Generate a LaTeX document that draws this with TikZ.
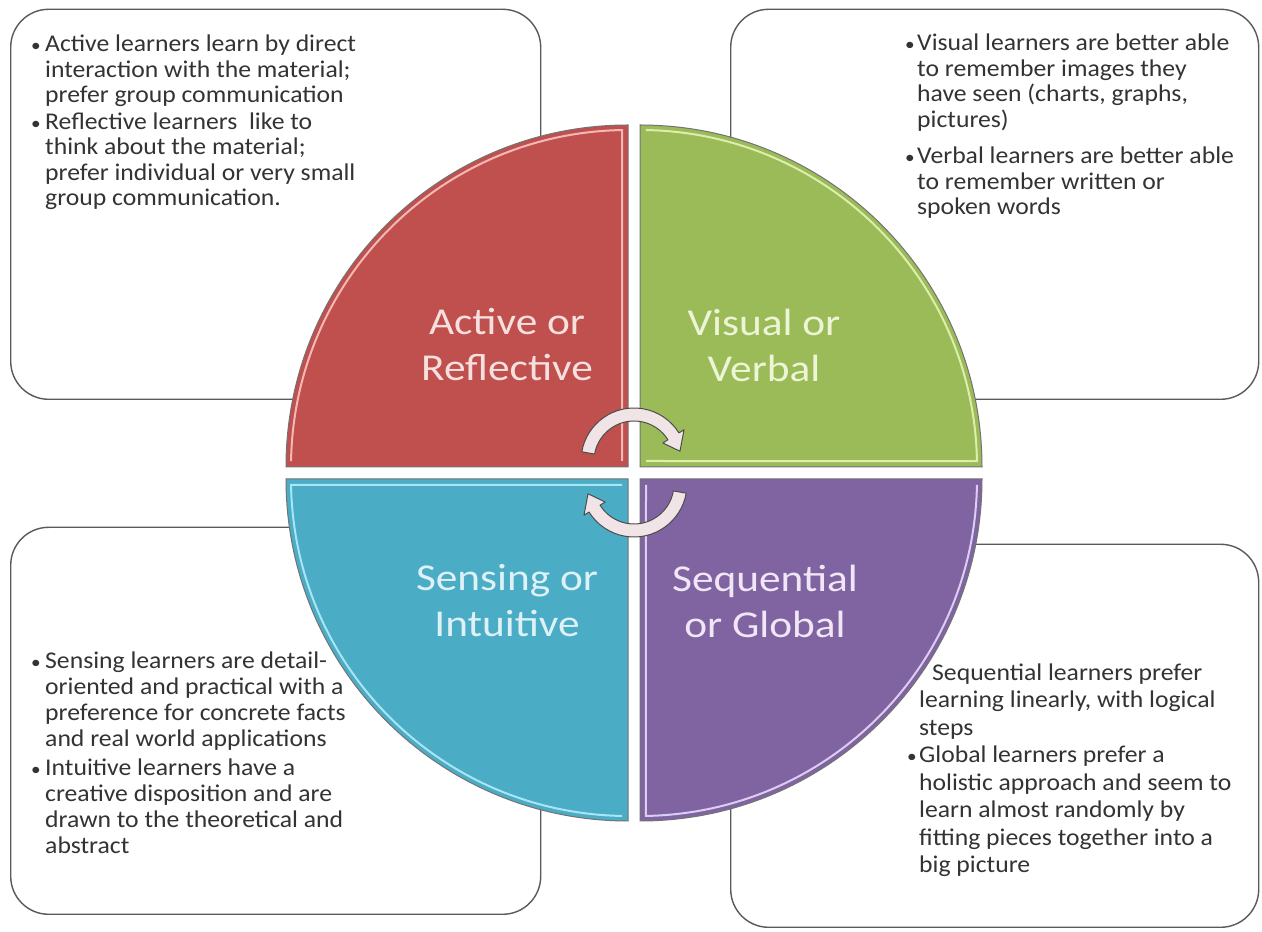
\documentclass[tikz,border=0pt]{standalone}
\usepackage{fontspec}
\setmainfont{Carlito}
\newfontfamily\bodyfont[FakeStretch=1.07]{Carlito}
\newfontfamily\labelfont[FakeStretch=1.14]{Carlito}
\usetikzlibrary{calc}
\definecolor{qred}{HTML}{C0504D}
\definecolor{qgreen}{HTML}{9BBB59}
\definecolor{qblue}{HTML}{4BACC6}
\definecolor{qpurple}{HTML}{8064A2}
\definecolor{hred}{HTML}{F4B8B6}
\definecolor{hgreen}{HTML}{DCEEAA}
\definecolor{hblue}{HTML}{A8E6F5}
\definecolor{hpurple}{HTML}{DCCDF2}
\definecolor{lred}{HTML}{F6E0DF}
\definecolor{lgreen}{HTML}{EEF5D6}
\definecolor{lblue}{HTML}{DDF1F7}
\definecolor{lpurple}{HTML}{F0E6F5}
\definecolor{boxline}{HTML}{5A5A5A}
\definecolor{txt}{HTML}{333333}
\definecolor{arrowfill}{HTML}{F0E4E6}
\newcommand{\bul}{{\fontsize{18}{18}\selectfont\textbullet}}
\tikzset{
  infobox/.style={draw=boxline, line width=1.4pt, fill=white, rounded corners=38pt, inner sep=0pt, anchor=south west},
  infotext/.style={anchor=base west, inner sep=0pt, text=txt, font=\bodyfont\fontsize{24}{25.5}\selectfont},
  quad/.style={draw=black!55, line width=1pt},
  hl/.style={line width=2pt},
  qlabel/.style={align=center, font=\labelfont\fontsize{38}{46}\selectfont, inner sep=0pt},
  arrowband/.style={fill=arrowfill, draw=black!70, line width=1pt, line join=round},
}
\begin{document}
\begin{tikzpicture}[x=1pt,y=1pt]
\useasboundingbox (0,0) rectangle (1262,932);
\fill[white] (0,0) rectangle (1262,932);

% info boxes
\node[infobox, minimum width=530, minimum height=390] (boxTL) at (10,532) {};
\node[infobox, minimum width=528, minimum height=390] (boxTR) at (730,532) {};
\node[infobox, minimum width=530, minimum height=387] (boxBL) at (10,17) {};
\node[infobox, minimum width=528, minimum height=383] (boxBR) at (730,4) {};

% box texts
\node[infotext] (tTL) at (31,880) {\begin{tabular}[t]{@{}p{14pt}@{}l@{}}
\bul & Active learners learn by direct\\
 & interaction with the material;\\
 & prefer group communication\\[1pt]
\bul & Reflective learners\ \ like to\\
 & think about the material;\\
 & prefer individual or very small\\
 & group communication.
\end{tabular}};

\node[infotext] (tTR) at (905,881) {\begin{tabular}[t]{@{}p{12pt}@{}l@{}}
\bul & Visual learners are better able\\
 & to remember images they\\
 & have seen (charts, graphs,\\
 & pictures)\\[11pt]
\bul & Verbal learners are better able\\
 & to remember written or\\
 & spoken words
\end{tabular}};

\node[infotext, font=\bodyfont\fontsize{24}{26}\selectfont] (tBL) at (31,263) {\begin{tabular}[t]{@{}p{14pt}@{}l@{}}
\bul & Sensing learners are detail-\\
 & oriented and practical with a\\
 & preference for concrete facts\\
 & and real world applications\\[3pt]
\bul & Intuitive learners have a\\
 & creative disposition and are\\
 & drawn to the theoretical and\\
 & abstract
\end{tabular}};

\node[infotext, font=\bodyfont\fontsize{24}{27.5}\selectfont] (tBR) at (907,251.5) {\begin{tabular}[t]{@{}p{12pt}@{}l@{}}
 & \hspace{13pt}Sequential learners prefer\\
 & learning linearly, with logical\\
 & steps\\
\bul & Global learners prefer a\\
 & holistic approach and seem to\\
 & learn almost randomly by\\
 & fitting pieces together into a\\
 & big picture
\end{tabular}};

% quadrant corners
\coordinate (cR) at (628,465);
\coordinate (cG) at (640,465);
\coordinate (cB) at (628,453);
\coordinate (cP) at (640,453);
\coordinate (Otop) at (634,471);
\coordinate (Obot) at (634,448);

% quadrants
\path[quad, fill=qred] (cR) -- ([shift={(180:342)}]cR) arc[start angle=180,end angle=90,radius=342] -- cycle;
\path[quad, fill=qgreen] (cG) -- ([shift={(90:342)}]cG) arc[start angle=90,end angle=0,radius=342] -- cycle;
\path[quad, fill=qblue] (cB) -- ([shift={(180:342)}]cB) arc[start angle=180,end angle=270,radius=342] -- cycle;
\path[quad, fill=qpurple] (cP) -- ([shift={(0:342)}]cP) arc[start angle=0,end angle=-90,radius=342] -- cycle;

% highlights
\draw[hl, hred] ([shift={(179:337)}]cR) arc[start angle=179,end angle=91,radius=337] -- ([shift={(-6,6)}]cR);
\draw[hl, hgreen] ([shift={(89:337)}]cG) arc[start angle=89,end angle=1,radius=337] -- ([shift={(6,6)}]cG);
\draw[hl, hblue] ([shift={(-6,-6)}]cB) -- ([shift={(181:337)}]cB) arc[start angle=181,end angle=269,radius=337];
\draw[hl, hpurple] ([shift={(6,-6)}]cP) -- ([shift={(-89:337)}]cP) arc[start angle=-89,end angle=-1,radius=337];

% labels
\node[qlabel, text=lred] (lAR) at (507,587) {Active or\\Reflective};
\node[qlabel, text=lgreen] (lVV) at (764,587) {Visual or\\Verbal};
\node[qlabel, text=lblue] (lSI) at (507,331) {Sensing or\\Intuitive};
\node[qlabel, text=lpurple] (lSG) at (765,331) {Sequential\\or Global};

% circular arrows
\draw[arrowband] ([shift={(170:53)}]Otop) arc[start angle=170,end angle=32,radius=53] -- ([shift={(32:59)}]Otop) -- ([shift={(12:47)}]Otop) -- ([shift={(32:34)}]Otop) -- ([shift={(32:40)}]Otop) arc[start angle=32,end angle=170,radius=40] -- cycle;
\draw[arrowband] ([shift={(-10:53)}]Obot) arc[start angle=-10,end angle=-148,radius=53] -- ([shift={(-148:59)}]Obot) -- ([shift={(-168:47)}]Obot) -- ([shift={(-148:34)}]Obot) -- ([shift={(-148:40)}]Obot) arc[start angle=-148,end angle=-10,radius=40] -- cycle;
\end{tikzpicture}
\end{document}
